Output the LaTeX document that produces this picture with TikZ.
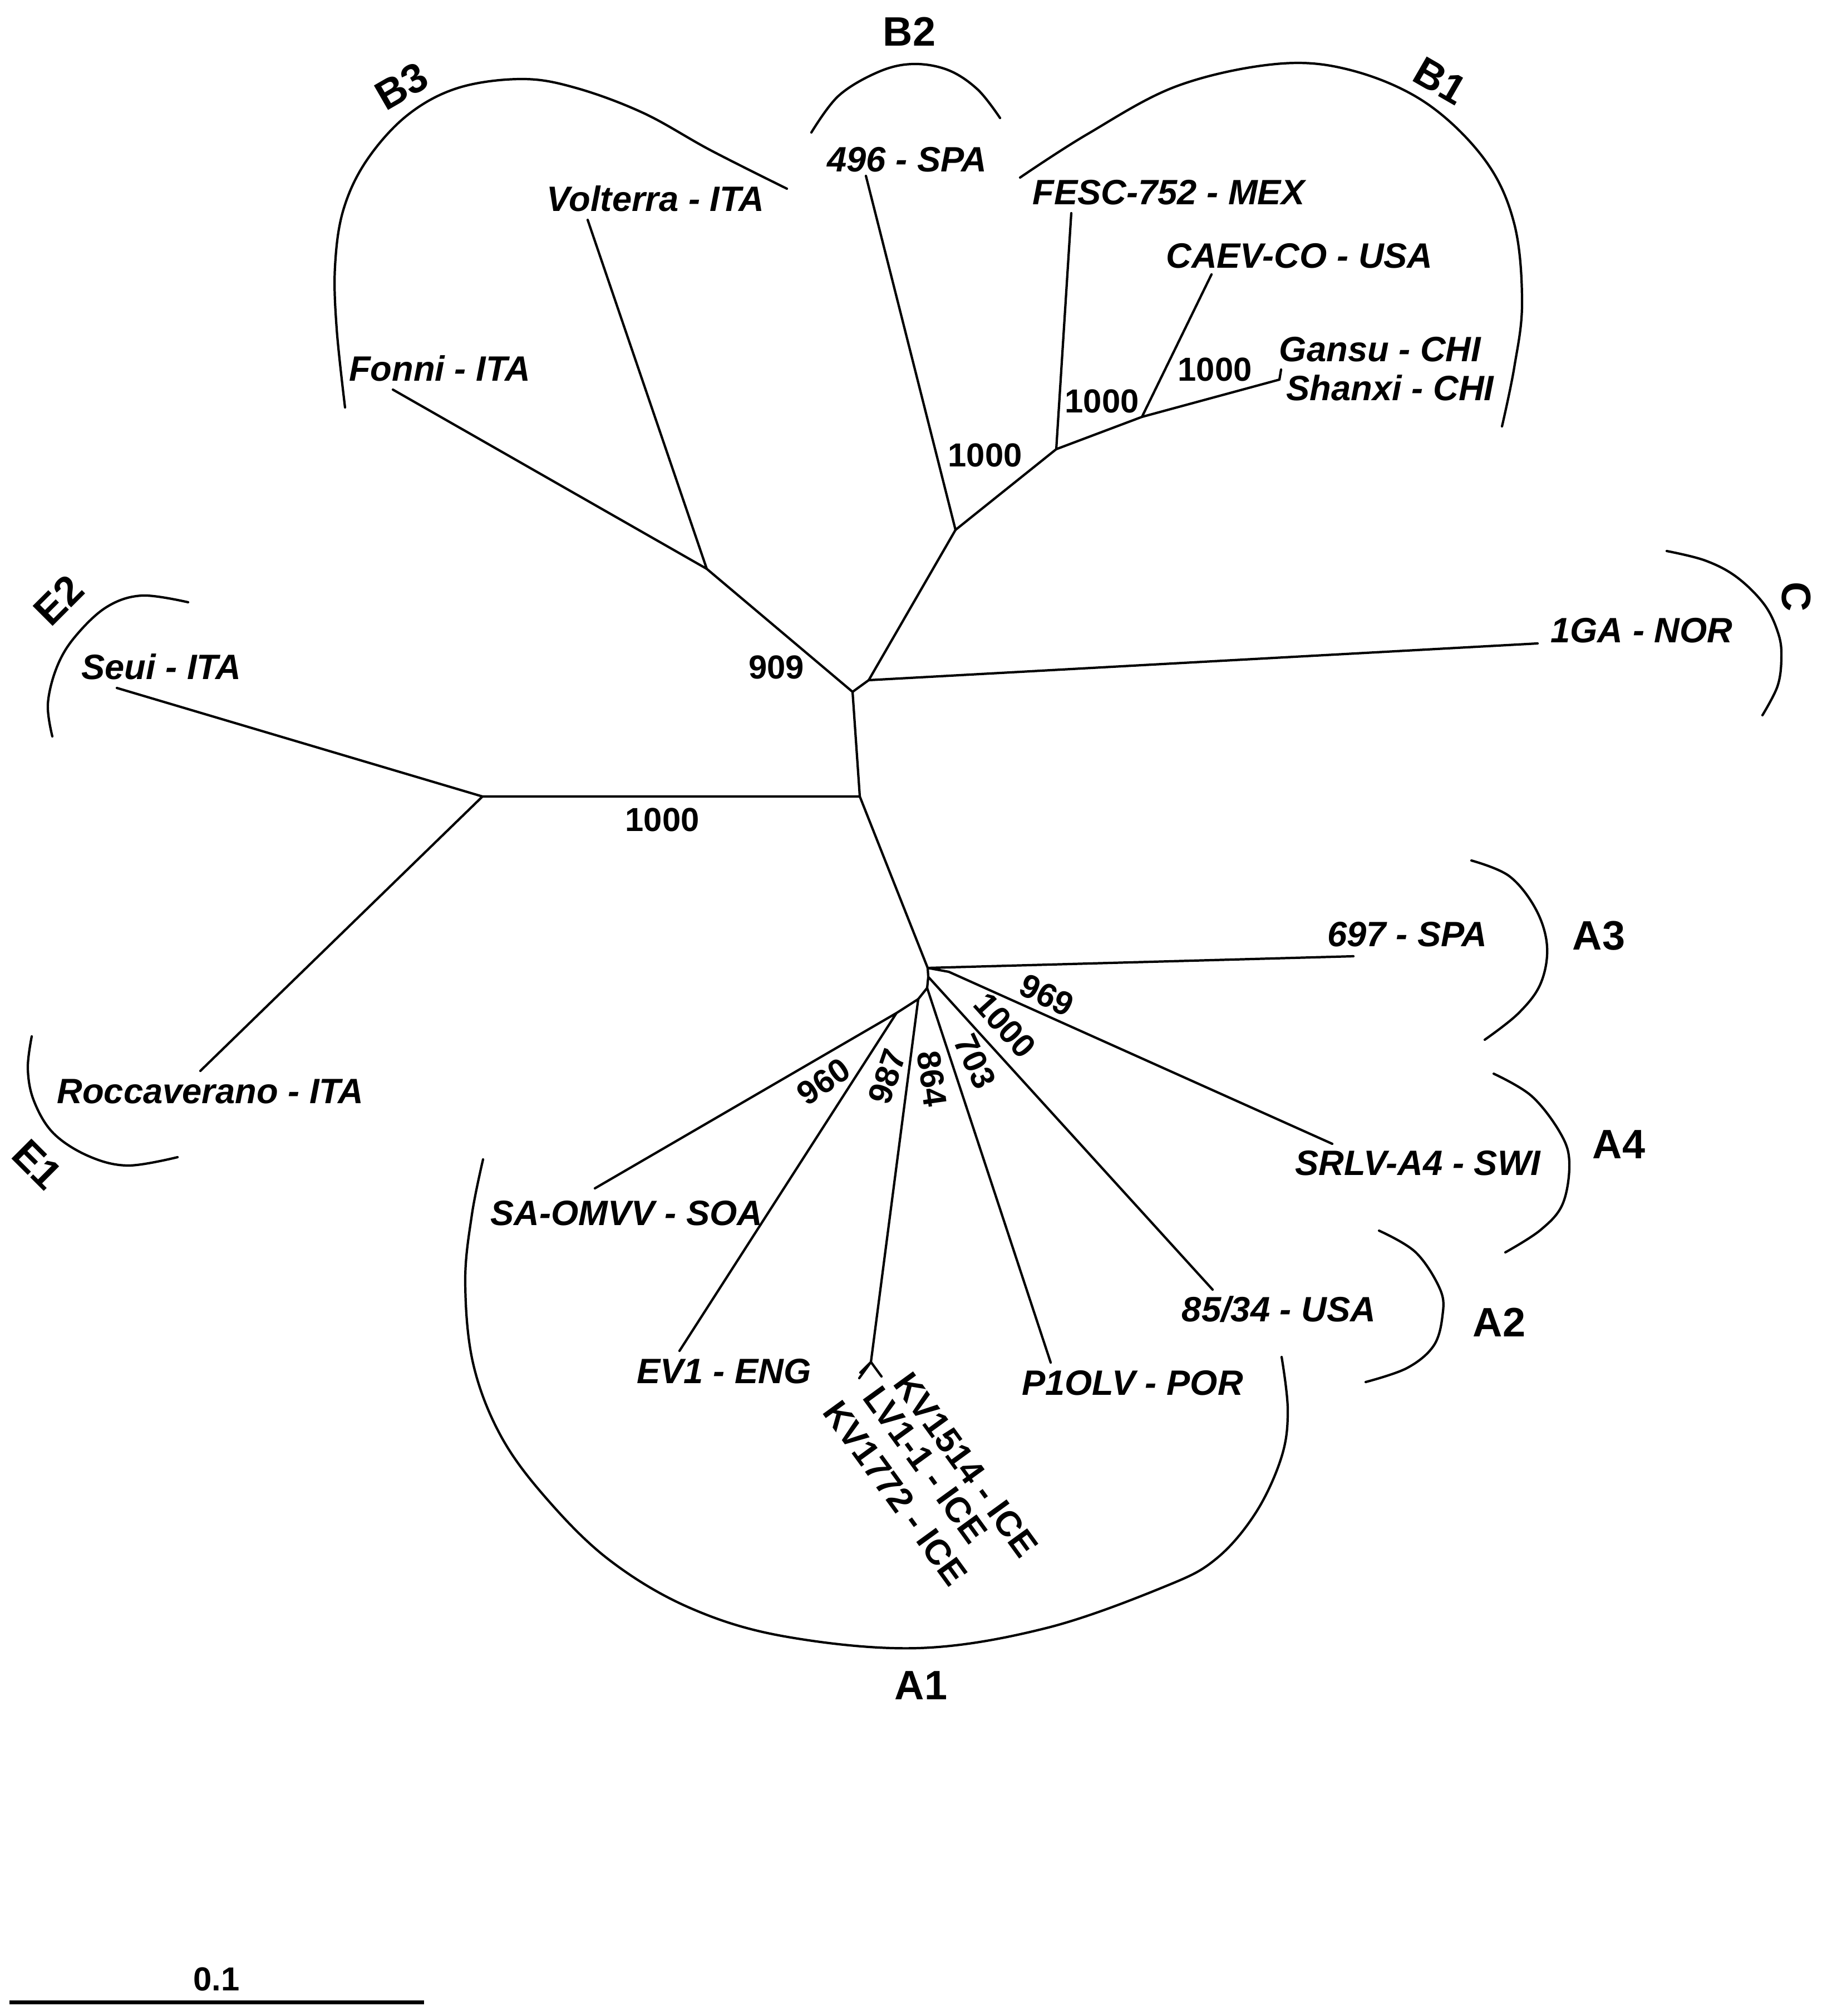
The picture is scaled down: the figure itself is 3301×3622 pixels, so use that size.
\documentclass[tikz,border=0pt]{standalone}
\usepackage{fontspec}
\setmainfont{Liberation Sans}
\begin{document}
\begin{tikzpicture}[x=0.01cm,y=-0.01cm,
  br/.style={line width=1.2pt, line cap=round, line join=round},
  cladearc/.style={line width=1.2pt, line cap=round},
  leaf/.style={font=\fontsize{18}{20}\selectfont\bfseries\itshape, inner sep=0pt},
  icelab/.style={font=\fontsize{18}{20}\selectfont\bfseries, inner sep=0pt, rotate=-54, anchor=west},
  boot/.style={font=\fontsize{17}{19}\selectfont\bfseries, inner sep=0pt},
  clade/.style={font=\fontsize{21}{23}\selectfont\bfseries, inner sep=0pt}]
\useasboundingbox (0,0) rectangle (3301,3622);

% ---- tree points ----
\coordinate (n0) at (1532,1243);
\coordinate (n1) at (1561,1222);
\coordinate (nB) at (1717,952);
\coordinate (nB1) at (1898,807);
\coordinate (nB1b) at (2052,749);
\coordinate (nGS) at (2299,682);
\coordinate (lG) at (2302,664);
\coordinate (l496) at (1556,316);
\coordinate (lFESC) at (1925,383);
\coordinate (lCAEV) at (2177,493);
\coordinate (nB3) at (1270,1022);
\coordinate (lVol) at (1056,395);
\coordinate (lFon) at (706,700);
\coordinate (l1GA) at (2763,1156);
\coordinate (n2) at (1545,1431);
\coordinate (nE) at (867,1431);
\coordinate (lSeui) at (210,1236);
\coordinate (lRoc) at (360,1924);
\coordinate (nA) at (1667,1739);
\coordinate (l697) at (2432,1718);
\coordinate (nA1) at (1705,1746);
\coordinate (lSRLV) at (2394,2055);
\coordinate (nA2) at (1668,1755);
\coordinate (l8534) at (2179,2317);
\coordinate (nA3) at (1666,1775);
\coordinate (lP1) at (1888,2448);
\coordinate (nAL) at (1650,1795);
\coordinate (nICE) at (1565,2447);
\coordinate (lICE1) at (1584,2473);
\coordinate (lICE2) at (1546,2466);
\coordinate (lICE3) at (1544,2476);
\coordinate (nAS) at (1611,1820);
\coordinate (lSA) at (1069,2135);
\coordinate (lEV1) at (1221,2427);

% ---- branches ----
\draw[br] (n0)--(n1) (n0)--(n2) (n0)--(nB3);
\draw[br] (n1)--(nB) (n1)--(l1GA);
\draw[br] (nB)--(l496) (nB)--(nB1);
\draw[br] (nB1)--(lFESC) (nB1)--(nB1b);
\draw[br] (nB1b)--(lCAEV) (nB1b)--(nGS) (nGS)--(lG);
\draw[br] (nB3)--(lVol) (nB3)--(lFon);
\draw[br] (n2)--(nE) (n2)--(nA);
\draw[br] (nE)--(lSeui) (nE)--(lRoc);
\draw[br] (nA)--(l697) (nA)--(nA1) (nA1)--(lSRLV);
\draw[br] (nA)--(nA2) (nA2)--(l8534) (nA2)--(nA3);
\draw[br] (nA3)--(lP1) (nA3)--(nAL);
\draw[br] (nAL)--(nICE) (nICE)--(lICE1) (nICE)--(lICE2) (nICE)--(lICE3);
\draw[br] (nAL)--(nAS) (nAS)--(lSA) (nAS)--(lEV1);

% ---- leaf labels ----
\node[leaf] (t496) at (1630,287) {496 - SPA};
\node[leaf] (tFESC) at (2100,346) {FESC-752 - MEX};
\node[leaf] (tCAEV) at (2335,460) {CAEV-CO - USA};
\node[leaf] (tGansu) at (2480,628) {Gansu - CHI};
\node[leaf] (tShanxi) at (2498,697) {Shanxi - CHI};
\node[leaf] (t1GA) at (2950,1133) {1GA - NOR};
\node[leaf] (tVol) at (1178,357) {Volterra - ITA};
\node[leaf] (tFon) at (790,662) {Fonni - ITA};
\node[leaf] (tSeui) at (290,1198) {Seui - ITA};
\node[leaf] (tRoc) at (378,1961) {Roccaverano - ITA};
\node[leaf] (tSA) at (1126,2180) {SA-OMVV - SOA};
\node[leaf] (tEV1) at (1301,2464) {EV1 - ENG};
\node[leaf] (tP1) at (2035,2485) {P1OLV - POR};
\node[leaf] (t8534) at (2298,2352) {85/34 - USA};
\node[leaf] (tSRLV) at (2548,2090) {SRLV-A4 - SWI};
\node[leaf] (t697) at (2529,1679) {697 - SPA};
\node[icelab] (tKV1514) at (1621,2473) {KV1514 - ICE};
\node[icelab] (tLV11) at (1566,2498) {LV1-1 - ICE};
\node[icelab] (tKV1772) at (1494,2524) {KV1772 - ICE};

% ---- bootstrap values ----
\node[boot] (bB) at (1770,818) {1000};
\node[boot] (bB1) at (1980,721) {1000};
\node[boot] (bB1b) at (2183,664) {1000};
\node[boot] (b909) at (1395,1199) {909};
\node[boot] (bE) at (1190,1473) {1000};
\node[boot, rotate=-26] (b969) at (1881,1788) {969};
\node[boot, rotate=-48] (bA) at (1806,1842) {1000};
\node[boot, rotate=-65] (b703) at (1752,1907) {703};
\node[boot, rotate=-82] (b864) at (1675,1938) {864};
\node[boot, rotate=71] (b987) at (1594,1934) {987};
\node[boot, rotate=35] (b960) at (1480,1943) {960};

% ---- clade arcs ----
\draw[cladearc] plot[smooth, tension=0.6] coordinates {(1458,238) (1507,172) (1579,129) (1641,115) (1704,126) (1757,161) (1797,212)};
\draw[cladearc] plot[smooth, tension=0.6] coordinates {(1833,319) (1954,241) (2114,155) (2293,115) (2427,126) (2561,184) (2668,287) (2721,402) (2735,545) (2721,660) (2699,766)};
\draw[cladearc] plot[smooth, tension=0.6] coordinates {(620,732) (605,591) (602,479) (617,377) (659,288) (732,207) (823,158) (938,142) (1035,158) (1156,203) (1277,270) (1414,339)};
\draw[cladearc] plot[smooth, tension=0.6] coordinates {(2995,990) (3064,1007) (3121,1037) (3171,1087) (3196,1140) (3201,1183) (3194,1233) (3167,1285)};
\draw[cladearc] plot[smooth, tension=0.6] coordinates {(338,1082) (255,1070) (191,1091) (134,1145) (102,1199) (86,1265) (94,1323)};
\draw[cladearc] plot[smooth, tension=0.6] coordinates {(57,1862) (50,1920) (61,1978) (96,2036) (159,2077) (230,2094) (319,2079)};
\draw[cladearc] plot[smooth, tension=0.6] coordinates {(2644,1546) (2712,1574) (2760,1634) (2780,1701) (2768,1768) (2728,1821) (2668,1868)};
\draw[cladearc] plot[smooth, tension=0.6] coordinates {(2684,1929) (2752,1969) (2804,2036) (2820,2089) (2808,2163) (2768,2210) (2705,2250)};
\draw[cladearc] plot[smooth, tension=0.6] coordinates {(2478,2211) (2544,2250) (2588,2317) (2592,2364) (2576,2418) (2528,2458) (2454,2483)};
\draw[cladearc] plot[smooth, tension=0.6] coordinates {(868,2083) (848,2182) (836,2303) (850,2449) (899,2578) (980,2690) (1094,2802) (1238,2888) (1410,2940) (1650,2961) (1880,2925) (2094,2850) (2186,2800) (2257,2717) (2303,2617) (2314,2533) (2303,2438)};

% ---- clade labels ----
\node[clade] (cB2) at (1634,57) {B2};
\node[clade, rotate=-30] (cB1) at (2588,145) {B1};
\node[clade, rotate=30] (cB3) at (722,155) {B3};
\node[clade, rotate=-90] (cC) at (3228,1072) {C};
\node[clade, rotate=45] (cE2) at (105,1078) {E2};
\node[clade, rotate=-45] (cE1) at (67,2092) {E1};
\node[clade] (cA3) at (2873,1681) {A3};
\node[clade] (cA4) at (2909,2056) {A4};
\node[clade] (cA2) at (2694,2376) {A2};
\node[clade] (cA1) at (1655,3028) {A1};

% ---- scale bar ----
\coordinate (sbL) at (17,3597);
\coordinate (sbR) at (762,3597);
\draw[line width=2pt] (sbL) -- (sbR);
\node[boot] (sbT) at (389,3556) {0.1};
\end{tikzpicture}
\end{document}
